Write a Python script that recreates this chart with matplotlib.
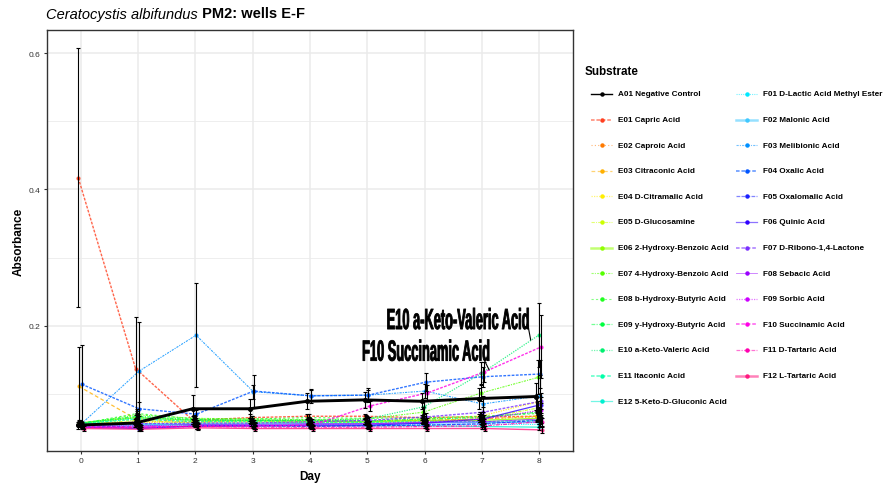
import numpy as np
import matplotlib
matplotlib.use('Agg')
import matplotlib.pyplot as plt
from matplotlib.lines import Line2D
from matplotlib.patheffects import AbstractPathEffect
from matplotlib.transforms import Affine2D

plt.rcParams['font.family'] = ['Liberation Sans', 'DejaVu Sans']

# ---- data: mean absorbance and sd per substrate, days 0-8 ----
days = [0, 1, 2, 3, 4, 5, 6, 7, 8]

substrates = [
    'A01 Negative Control',
    'E01 Capric Acid', 'E02 Caproic Acid', 'E03 Citraconic Acid',
    'E04 D-Citramalic Acid', 'E05 D-Glucosamine', 'E06 2-Hydroxy-Benzoic Acid',
    'E07 4-Hydroxy-Benzoic Acid', 'E08 b-Hydroxy-Butyric Acid',
    'E09 y-Hydroxy-Butyric Acid', 'E10 a-Keto-Valeric Acid',
    'E11 Itaconic Acid', 'E12 5-Keto-D-Gluconic Acid',
    'F01 D-Lactic Acid Methyl Ester', 'F02 Malonic Acid', 'F03 Melibionic Acid',
    'F04 Oxalic Acid', 'F05 Oxalomalic Acid', 'F06 Quinic Acid',
    'F07 D-Ribono-1,4-Lactone', 'F08 Sebacic Acid', 'F09 Sorbic Acid',
    'F10 Succinamic Acid', 'F11 D-Tartaric Acid', 'F12 L-Tartaric Acid',
]

a01_mean = [0.054, 0.057, 0.078, 0.078, 0.089, 0.091, 0.089, 0.093, 0.096]
a01_sd = [0.005, 0.006, 0.020, 0.014, 0.012, 0.012, 0.012, 0.015, 0.020]

e_mean = [
    [0.417, 0.137, 0.061, 0.065, 0.067, 0.067, 0.065, 0.066, 0.067],
    [0.055, 0.059, 0.059, 0.061, 0.061, 0.059, 0.061, 0.063, 0.066],
    [0.111, 0.063, 0.059, 0.060, 0.059, 0.059, 0.061, 0.063, 0.067],
    [0.056, 0.058, 0.058, 0.059, 0.059, 0.060, 0.063, 0.067, 0.088],
    [0.055, 0.061, 0.057, 0.057, 0.058, 0.058, 0.059, 0.063, 0.079],
    [0.057, 0.065, 0.061, 0.061, 0.060, 0.059, 0.061, 0.061, 0.064],
    [0.056, 0.069, 0.064, 0.063, 0.062, 0.063, 0.073, 0.101, 0.124],
    [0.056, 0.071, 0.063, 0.063, 0.065, 0.064, 0.065, 0.067, 0.071],
    [0.057, 0.067, 0.062, 0.061, 0.061, 0.060, 0.063, 0.065, 0.073],
    [0.056, 0.065, 0.061, 0.061, 0.061, 0.063, 0.081, 0.130, 0.186],
    [0.056, 0.063, 0.059, 0.059, 0.058, 0.058, 0.059, 0.059, 0.061],
    [0.055, 0.056, 0.054, 0.053, 0.053, 0.053, 0.053, 0.052, 0.051],
]
e_sd = [
    [0.190, 0.076, 0.006, 0.005, 0.004, 0.004, 0.004, 0.005, 0.006],
    [0.004, 0.005, 0.004, 0.004, 0.004, 0.004, 0.004, 0.005, 0.006],
    [0.057, 0.006, 0.004, 0.004, 0.004, 0.004, 0.005, 0.005, 0.008],
    [0.004, 0.005, 0.004, 0.004, 0.004, 0.005, 0.005, 0.006, 0.012],
    [0.003, 0.005, 0.004, 0.004, 0.004, 0.004, 0.004, 0.005, 0.010],
    [0.004, 0.006, 0.005, 0.004, 0.004, 0.004, 0.004, 0.005, 0.006],
    [0.004, 0.006, 0.005, 0.005, 0.004, 0.005, 0.008, 0.012, 0.025],
    [0.004, 0.006, 0.005, 0.005, 0.005, 0.005, 0.005, 0.006, 0.008],
    [0.004, 0.005, 0.005, 0.004, 0.004, 0.004, 0.005, 0.005, 0.008],
    [0.004, 0.005, 0.004, 0.004, 0.004, 0.005, 0.010, 0.016, 0.047],
    [0.004, 0.005, 0.004, 0.004, 0.004, 0.004, 0.004, 0.004, 0.005],
    [0.003, 0.004, 0.003, 0.003, 0.003, 0.003, 0.003, 0.003, 0.004],
]

f_mean = [
    [0.054, 0.053, 0.054, 0.054, 0.054, 0.054, 0.055, 0.055, 0.055],
    [0.055, 0.055, 0.056, 0.056, 0.056, 0.056, 0.057, 0.058, 0.058],
    [0.056, 0.133, 0.186, 0.103, 0.097, 0.098, 0.104, 0.085, 0.097],
    [0.114, 0.078, 0.070, 0.104, 0.097, 0.098, 0.117, 0.125, 0.129],
    [0.053, 0.051, 0.052, 0.053, 0.052, 0.053, 0.054, 0.056, 0.061],
    [0.051, 0.049, 0.053, 0.053, 0.054, 0.054, 0.057, 0.063, 0.084],
    [0.054, 0.056, 0.057, 0.057, 0.059, 0.061, 0.066, 0.073, 0.089],
    [0.053, 0.053, 0.055, 0.055, 0.056, 0.056, 0.058, 0.059, 0.063],
    [0.051, 0.050, 0.052, 0.053, 0.054, 0.056, 0.059, 0.063, 0.076],
    [0.051, 0.051, 0.053, 0.053, 0.054, 0.082, 0.101, 0.132, 0.169],
    [0.051, 0.051, 0.052, 0.051, 0.051, 0.051, 0.052, 0.053, 0.059],
    [0.049, 0.048, 0.050, 0.049, 0.049, 0.049, 0.049, 0.049, 0.047],
]
f_sd = [
    [0.003, 0.003, 0.003, 0.003, 0.003, 0.003, 0.003, 0.004, 0.004],
    [0.003, 0.004, 0.004, 0.004, 0.004, 0.004, 0.004, 0.004, 0.005],
    [0.004, 0.073, 0.076, 0.010, 0.008, 0.008, 0.010, 0.012, 0.030],
    [0.057, 0.010, 0.006, 0.023, 0.010, 0.010, 0.013, 0.015, 0.020],
    [0.003, 0.003, 0.003, 0.003, 0.003, 0.004, 0.004, 0.004, 0.006],
    [0.003, 0.003, 0.004, 0.004, 0.004, 0.004, 0.004, 0.006, 0.012],
    [0.004, 0.004, 0.004, 0.004, 0.004, 0.005, 0.006, 0.008, 0.012],
    [0.003, 0.003, 0.003, 0.003, 0.003, 0.004, 0.004, 0.004, 0.006],
    [0.003, 0.003, 0.003, 0.004, 0.004, 0.004, 0.005, 0.006, 0.010],
    [0.003, 0.003, 0.004, 0.004, 0.004, 0.008, 0.012, 0.015, 0.046],
    [0.003, 0.003, 0.003, 0.003, 0.003, 0.003, 0.004, 0.004, 0.006],
    [0.003, 0.003, 0.003, 0.003, 0.003, 0.003, 0.003, 0.003, 0.004],
]

means = [a01_mean] + e_mean + f_mean
sds = [a01_sd] + e_sd + f_sd

# ---- styles ----
colors = ['#000000',
          '#ff4020', '#ff7a00', '#ffb000', '#ffee00', '#ccff00', '#90ff00',
          '#55ff00', '#20ff20', '#00ff40', '#00f070', '#00ffa8', '#00f0d0',
          '#00e8ff', '#40c8ff', '#0090ff', '#0055ff', '#1a20ff', '#3000ff',
          '#7a30ff', '#9a00ff', '#cc00ff', '#ff00e6', '#ff00b0', '#ff1a80']
dot = (0, (1, 1))
dash = (0, (2, 1))
linestyles = [
    ('-', 1.0),
    (dash, 1.3), ((0, (1, 2)), 0.8), ((0, (3, 2)), 0.9), (dot, 0.9),
    ((0, (3, 1, 1, 1)), 0.8), ('-', 1.8), ((0, (2, 1, 1, 1)), 0.8),
    ((0, (2, 2)), 0.8), ((0, (3, 1, 1, 1)), 0.9), (dot, 0.9), (dash, 1.3),
    ('-', 0.9),
    (dot, 0.8), ('-', 1.8), ((0, (2, 1, 1, 1)), 0.8), (dash, 1.3),
    ((0, (3, 1)), 0.9), ('-', 0.9), (dash, 1.3), ('-', 0.6), (dot, 0.9),
    (dash, 1.3), ((0, (3, 1, 1, 1)), 0.9), ('-', 1.8),
]

W, H = 884, 489
fig = plt.figure(figsize=(W / 100, H / 100), dpi=100)
ax = fig.add_axes([47 / W, 1 - 452 / H, (573 - 47) / W, (452 - 31) / H])


def fx(x):
    return x / W


def fy(y):
    return 1 - y / H


for i, (mean, sd) in enumerate(zip(means, sds)):
    x = np.array(days) + (i - 12) * 0.004
    ls, lw = linestyles[i]
    if i == 0:
        ax.plot(x, mean, color='black', lw=2.1, marker='o', ms=2.6, zorder=4)
    else:
        ax.plot(x, mean, color=colors[i], ls=ls, lw=min(lw, 1.0), alpha=0.8,
                marker='o', ms=2.0, zorder=3)
    ax.errorbar(x, mean, yerr=sd, fmt='none', ecolor='black', elinewidth=0.8,
                capsize=1.5, capthick=0.8, zorder=5)

ax.set_xlim(-0.59, 8.59)
ax.set_ylim(0.016, 0.634)
ax.set_xticks(days)
ax.set_yticks([0.2, 0.4, 0.6])
ax.set_yticks([0.1, 0.3, 0.5], minor=True)
ax.grid(which='major', color='#ebebeb', lw=1.1)
ax.grid(which='minor', axis='y', color='#ebebeb', lw=0.6)
ax.set_axisbelow(True)
ax.tick_params(which='major', length=2.5, width=0.8, color='#333333',
               labelsize=6, labelcolor='#333333', pad=2)
ax.tick_params(which='minor', length=0)
for s in ax.spines.values():
    s.set_color('#333333')
    s.set_linewidth(1.0)

ax.set_xlabel('Day', fontsize=8.5, fontweight='bold')
ax.xaxis.set_label_coords(0.5, -0.045)
ax.set_ylabel('Absorbance', fontsize=8.5, fontweight='bold')
ax.yaxis.set_label_coords(-0.042, 0.5)


# narrow the repel labels horizontally, with a light stroke for weight
class Squeeze(AbstractPathEffect):
    def __init__(self, sx, stroke=0.6):
        super().__init__()
        self.sx = sx
        self.stroke = stroke

    def draw_path(self, renderer, gc, tpath, affine, rgbFace=None):
        box = tpath.get_extents(affine)
        cx = 0.5 * (box.x0 + box.x1)
        squeeze = Affine2D().translate(-cx, 0).scale(self.sx, 1).translate(cx, 0)
        gc0 = renderer.new_gc()
        gc0.copy_properties(gc)
        gc0.set_linewidth(self.stroke)
        gc0.set_foreground(rgbFace)
        renderer.draw_path(gc0, tpath, affine + squeeze, rgbFace)
        gc0.restore()


labels = [(10, 6.58, 0.195, (-8, -5), (-3, 16)),
          (22, 6.02, 0.1486, (5, 2), (-5, 10))]
for idx, lx, ly, off1, off2 in labels:
    ax.text(lx, ly, substrates[idx], ha='center', va='baseline', fontsize=21,
            fontweight='bold', color='black',
            path_effects=[Squeeze(0.44)], zorder=6)
    day_i = 8 if idx == 10 else 7
    xp = days[day_i] + (idx - 12) * 0.004
    yp = means[idx][day_i]
    start = ax.transData + Affine2D().translate(*off1)
    ax.annotate('', xy=(xp, yp), xycoords=start, xytext=off2,
                textcoords='offset pixels',
                arrowprops=dict(arrowstyle='-', color='black', lw=0.8,
                                shrinkA=0, shrinkB=0), zorder=6)

# title: italic species name followed by bold plate info
t1 = fig.text(fx(46), fy(18.5), 'Ceratocystis albifundus', fontsize=10.5,
              style='italic', va='baseline', ha='left')
ax.annotate(' PM2: wells E-F', xy=(1, 0), xycoords=t1, fontsize=10.5,
            fontweight='bold', va='bottom', ha='left', annotation_clip=False)

# legend, two columns
fig.text(fx(585), fy(72), 'Substrate', fontsize=8.4, fontweight='bold',
         va='center', ha='left')
for i, name in enumerate(substrates):
    col, row = (0, i) if i < 13 else (1, i - 13)
    kx0 = 591 if col == 0 else 736
    y = fy(95 + 25.6 * row)
    ls, lw = linestyles[i]
    alpha = 1.0 if i == 0 else 0.55
    fig.add_artist(Line2D([fx(kx0), fx(kx0 + 21)], [y, y], color=colors[i],
                          ls=ls, lw=lw, alpha=alpha))
    fig.add_artist(Line2D([fx(kx0 + 10.5)], [y], color=colors[i], marker='o',
                          ms=2.2, lw=0))
    fig.text(fx(kx0 + 27), y, name, fontsize=5.9, fontweight='bold',
             va='center', ha='left')

fig.savefig('out.png', dpi=100)
